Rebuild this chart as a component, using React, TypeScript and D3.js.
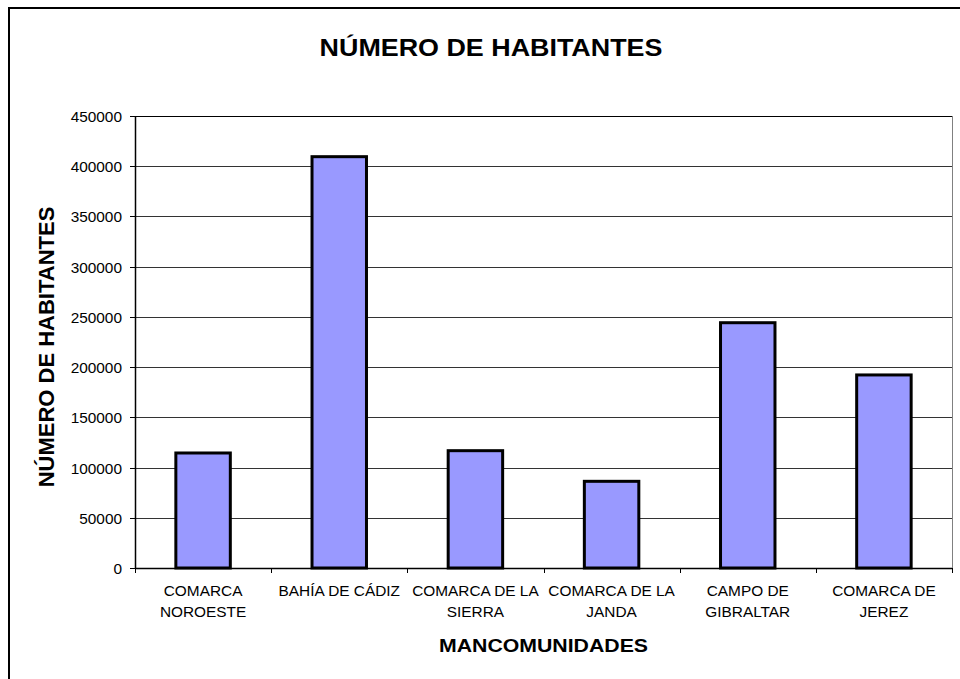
import { useEffect, useRef } from "react"
import * as d3 from "d3"

const categories = [
  ["COMARCA", "NOROESTE"],
  ["BAHÍA DE CÁDIZ"],
  ["COMARCA DE LA", "SIERRA"],
  ["COMARCA DE LA", "JANDA"],
  ["CAMPO DE", "GIBRALTAR"],
  ["COMARCA DE", "JEREZ"],
]
const habitantes = [114500, 409500, 116800, 86300, 244200, 192200]
const yTicks = [0, 50000, 100000, 150000, 200000, 250000, 300000, 350000, 400000, 450000]

const W = 960
const H = 679
const FONT = "'Liberation Sans', Arial, sans-serif"

export default function App() {
  const ref = useRef<SVGSVGElement>(null)

  useEffect(() => {
    if (!ref.current) return
    const svg = d3.select(ref.current)
    svg.selectAll("*").remove()

    const left = 135
    const right = 952
    const top = 116
    const bottom = 568

    const x = d3
      .scaleBand<number>()
      .domain(d3.range(categories.length))
      .range([left, right])
      .paddingInner(0.6)
      .paddingOuter(0.3)
    const band = (right - left) / categories.length
    const y = d3.scaleLinear().domain([0, 450000]).range([bottom, top])

    // chart area frame
    svg
      .append("rect")
      .attr("x", 9)
      .attr("y", 8)
      .attr("width", 1000)
      .attr("height", 1000)
      .attr("fill", "#fff")
      .attr("stroke", "#000")
      .attr("stroke-width", 2)

    // text is a bit wider than plain Arial in the source, so stretch it
    const stretched = (sel: any, tx: number, ty: number, size: number, sx: number, bold: boolean, anchor: string, txt: string) =>
      sel
        .append("text")
        .attr("transform", `translate(${tx},${ty}) scale(${sx},1)`)
        .attr("text-anchor", anchor)
        .attr("font-family", FONT)
        .attr("font-size", size)
        .attr("font-weight", bold ? "bold" : "normal")
        .attr("fill", "#000")
        .text(txt)

    stretched(svg, 491, 56, 24, 1.12, true, "middle", "NÚMERO DE HABITANTES")

    // gridlines
    svg
      .append("g")
      .selectAll("line")
      .data(yTicks.filter((d) => d > 0 && d < 450000))
      .enter()
      .append("line")
      .attr("x1", left)
      .attr("x2", right)
      .attr("y1", (d) => Math.round(y(d)) + 0.5)
      .attr("y2", (d) => Math.round(y(d)) + 0.5)
      .attr("stroke", "#333")
      .attr("stroke-width", 1)

    // plot border top/right
    svg
      .append("line")
      .attr("x1", left)
      .attr("x2", right)
      .attr("y1", top + 0.5)
      .attr("y2", top + 0.5)
      .attr("stroke", "#000")
    svg
      .append("line")
      .attr("x1", right + 0.5)
      .attr("x2", right + 0.5)
      .attr("y1", top)
      .attr("y2", bottom)
      .attr("stroke", "#808080")

    // bars
    svg
      .append("g")
      .selectAll("rect")
      .data(habitantes)
      .enter()
      .append("rect")
      .attr("x", (_, i) => x(i)!)
      .attr("y", (d) => y(d))
      .attr("width", x.bandwidth())
      .attr("height", (d) => bottom - y(d))
      .attr("fill", "#9999FF")
      .attr("stroke", "#000")
      .attr("stroke-width", 3)

    // axes
    svg
      .append("line")
      .attr("x1", left + 0.5)
      .attr("x2", left + 0.5)
      .attr("y1", top)
      .attr("y2", bottom)
      .attr("stroke", "#000")
      .attr("stroke-width", 1.5)
    svg
      .append("line")
      .attr("x1", left)
      .attr("x2", right)
      .attr("y1", bottom + 0.5)
      .attr("y2", bottom + 0.5)
      .attr("stroke", "#000")
      .attr("stroke-width", 1.5)

    const yAxis = svg.append("g")
    yTicks.forEach((t) => {
      const ty = Math.round(y(t)) + 0.5
      yAxis.append("line").attr("x1", left - 5).attr("x2", left).attr("y1", ty).attr("y2", ty).attr("stroke", "#000")
      stretched(yAxis, left - 13, ty + 5, 14, 1.1, false, "end", String(t))
    })

    const xAxis = svg.append("g")
    d3.range(categories.length + 1).forEach((i) => {
      const tx = Math.round(left + i * band) + 0.5
      xAxis.append("line").attr("x1", tx).attr("x2", tx).attr("y1", bottom).attr("y2", bottom + 5).attr("stroke", "#000")
    })
    categories.forEach((lines, i) => {
      const cx = left + (i + 0.5) * band
      lines.forEach((ln, j) => stretched(xAxis, cx, 596 + j * 21, 14, 1.1, false, "middle", ln))
    })

    stretched(svg, (left + right) / 2, 652, 19, 1.12, true, "middle", "MANCOMUNIDADES")

    svg
      .append("text")
      .attr("transform", `translate(54,347) rotate(-90)`)
      .attr("text-anchor", "middle")
      .attr("font-family", FONT)
      .attr("font-size", 22)
      .attr("font-weight", "bold")
      .text("NÚMERO DE HABITANTES")
  }, [])

  return (
    <svg
      ref={ref}
      width={W}
      height={H}
      style={{ position: "absolute", left: 0, top: 0, display: "block", background: "#fff" }}
    />
  )
}
